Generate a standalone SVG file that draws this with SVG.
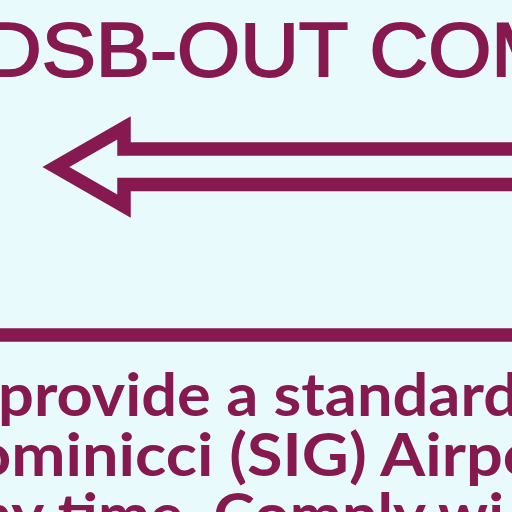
<svg xmlns="http://www.w3.org/2000/svg" width="512" height="512" viewBox="0 0 512 512">
  <style>
    .bg { fill: #E9FAFC; }
    .title { font-family: "Liberation Sans", Arial, sans-serif; font-size: 76px; fill: #86194F; stroke: #86194F; stroke-width: 2; }
    .body { font-family: Lato, "Open Sans", sans-serif; font-weight: 700; font-size: 59px; fill: #86194F; }
    .conn { fill: none; stroke: #86194F; stroke-width: 13.5; stroke-linejoin: miter; stroke-miterlimit: 6; }
  </style>
  <rect class="bg" x="0" y="0" width="512" height="512"/>
  <g id="title">
    <text class="title" x="-17" y="75.5" textLength="576" lengthAdjust="spacingAndGlyphs">DSB-OUT COM</text>
  </g>
  <g id="connectors">
    <path id="arrow" class="conn" d="M 530 149 H 124 V 128 L 56 167 L 124 206 V 184.5 H 530"/>
    <line id="rule" class="conn" x1="-10" y1="335" x2="530" y2="335"/>
  </g>
  <g id="body">
    <text class="body" x="-2" y="416" textLength="521" lengthAdjust="spacingAndGlyphs">provide a standard</text>
    <text class="body" x="-26" y="476" textLength="566" lengthAdjust="spacingAndGlyphs">ominicci (SIG) Airpo</text>
    <text class="body" x="-23" y="536" textLength="527" lengthAdjust="spacingAndGlyphs">ny time. Comply wi</text>
  </g>
</svg>
